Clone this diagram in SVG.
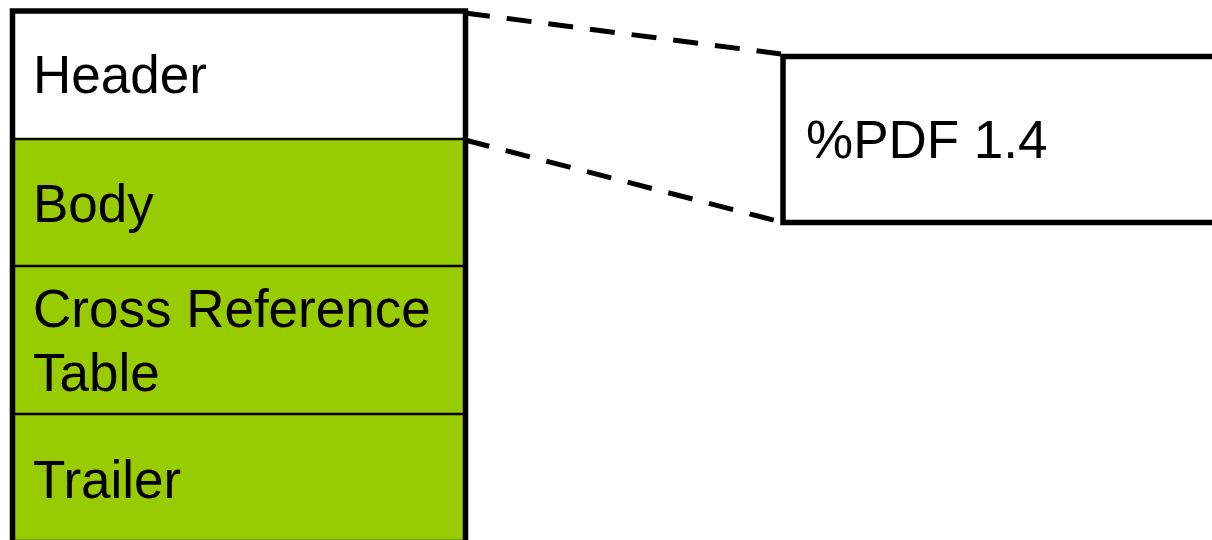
<svg xmlns="http://www.w3.org/2000/svg" width="1212" height="540" viewBox="0 0 1212 540">
  <style>
    .frame { fill: none; stroke: #000; stroke-width: 5.5; }
    .cell { fill: #99CC00; }
    .sep { stroke: #000; stroke-width: 2.7; }
    .label { font-family: "Liberation Sans", Arial, sans-serif; font-size: 53px; fill: #000; }
    .zoom { fill: none; stroke: #000; stroke-width: 5; stroke-dasharray: 25 17; }
  </style>
  <rect width="1212" height="540" fill="#fff"/>

  <!-- file layout stack -->
  <g id="header">
    <rect x="12.5" y="11" width="453" height="128" fill="#fff"/>
    <text class="label" x="33" y="93">Header</text>
  </g>
  <g id="body">
    <rect class="cell" x="12.5" y="139" width="453" height="127"/>
    <text class="label" x="33" y="222">Body</text>
  </g>
  <g id="xref">
    <rect class="cell" x="12.5" y="266" width="453" height="148"/>
    <text class="label" x="33" y="327">Cross Reference</text>
    <text class="label" x="33" y="391">Table</text>
  </g>
  <g id="trailer">
    <rect class="cell" x="12.5" y="414" width="453" height="130"/>
    <text class="label" x="33" y="498">Trailer</text>
  </g>
  <g id="stack-lines">
    <line class="sep" x1="12.5" y1="139" x2="465.5" y2="139"/>
    <line class="sep" x1="12.5" y1="266" x2="465.5" y2="266"/>
    <line class="sep" x1="12.5" y1="414" x2="465.5" y2="414"/>
    <rect class="frame" x="12.5" y="11" width="453" height="531.5"/>
  </g>

  <!-- header detail -->
  <g id="header-detail">
    <rect class="frame" x="783" y="56.5" width="500" height="166" fill="#fff"/>
    <text class="label" x="806" y="158">%PDF 1.4</text>
  </g>

  <!-- zoom connectors -->
  <g id="connectors">
    <line class="zoom" x1="465" y1="13" x2="781" y2="54"/>
    <line class="zoom" x1="465" y1="140" x2="781" y2="222"/>
  </g>
</svg>
